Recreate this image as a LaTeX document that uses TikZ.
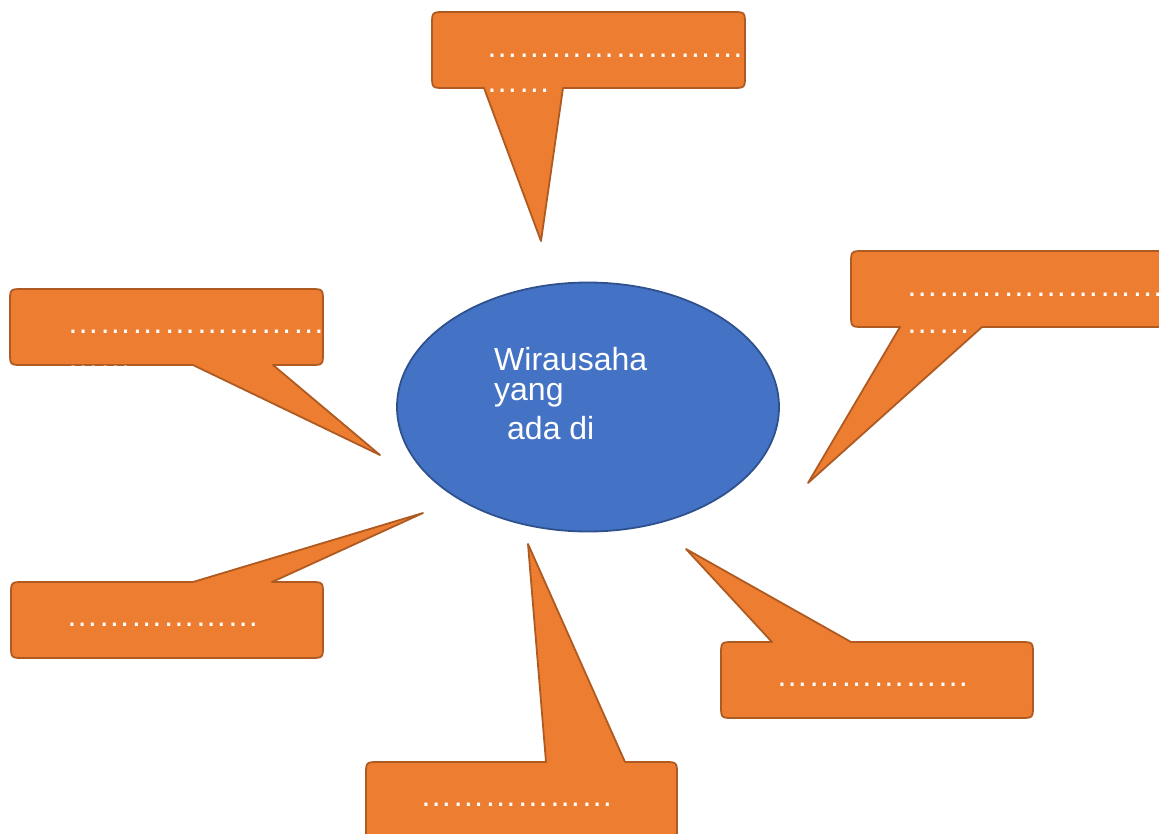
\documentclass[tikz,border=0pt]{standalone}
\usepackage{fontspec}
\setmainfont{Liberation Sans}
\usetikzlibrary{shapes.geometric}
\definecolor{orF}{HTML}{ED7D31}
\definecolor{orD}{HTML}{AE5A21}
\definecolor{blF}{HTML}{4472C4}
\definecolor{blD}{HTML}{2F528F}
% callout with tail leaving the bottom edge: x1 y1 x2 y2 b1 b2 tipx tipy
\newcommand\coBottom[8]{%
  \filldraw[callbox] ({#1+13},#2) -- ({#3-13},#2) .. controls (#3,#2) .. (#3,{#2+13})
    -- (#3,{#4-13}) .. controls (#3,#4) .. ({#3-13},#4)
    -- (#6,#4) -- (#7,#8) -- (#5,#4)
    -- ({#1+13},#4) .. controls (#1,#4) .. (#1,{#4-13})
    -- (#1,{#2+13}) .. controls (#1,#2) .. ({#1+13},#2) -- cycle;}
% callout with tail leaving the top edge: x1 y1 x2 y2 b1 b2 tipx tipy
\newcommand\coTop[8]{%
  \filldraw[callbox] ({#1+13},#2) -- (#5,#2) -- (#7,#8) -- (#6,#2)
    -- ({#3-13},#2) .. controls (#3,#2) .. (#3,{#2+13})
    -- (#3,{#4-13}) .. controls (#3,#4) .. ({#3-13},#4)
    -- ({#1+13},#4) .. controls (#1,#4) .. (#1,{#4-13})
    -- (#1,{#2+13}) .. controls (#1,#2) .. ({#1+13},#2) -- cycle;}
\begin{document}
\begin{tikzpicture}[x=1pt,y=-1pt,
  callbox/.style={fill=orF, draw=orD, line width=1.8pt, line join=round},
  dots/.style={text=white, inner sep=0pt, anchor=base west, font=\fontsize{32.2}{38}\selectfont},
  maintext/.style={text=white, inner sep=0pt, anchor=base west, font=\fontsize{32}{36}\selectfont}]
\useasboundingbox (0,0) rectangle (1159,833);
\clip (0,0) rectangle (1159,833);
\fill[white] (0,0) rectangle (1159,833);

% top callout
\coBottom{432}{12}{745}{88}{484}{563}{541}{241}
\node[dots] (t1) at (486,57) {……………………};
\node[dots] (t2) at (486,92) {……};

% left top callout
\coBottom{10}{289}{323}{365}{193}{273}{380}{455}
\node[dots] (lt1) at (67,333) {……………………};
\node[dots] (lt2) at (67,369) {……};

% right callout
\coBottom{851}{251}{1170}{327}{900}{982}{808}{483}
\node[dots] (r1) at (906,296) {……………………};
\node[dots] (r2) at (906,333) {……};

% bottom left callout
\coTop{11}{582}{323}{658}{193}{272}{423}{513}
\node[dots] (bl) at (66,626) {………………};

% bottom middle callout
\coTop{366}{762}{677}{850}{546}{625}{528}{544}
\node[dots] (bm) at (420,806) {………………};

% bottom right callout
\coTop{721}{642}{1033}{718}{772}{851}{686}{549}
\node[dots] (br) at (776,686) {………………};

% central ellipse
\node[ellipse, fill=blF, draw=blD, line width=1.8pt, minimum width=382pt, minimum height=249pt, inner sep=0pt] (center) at (588,407) {};
\node[maintext] (w1) at (494,370) {Wirausaha};
\node[maintext] (w2) at (494,400) {yang};
\node[maintext] (w3) at (507,439) {ada di};
\end{tikzpicture}
\end{document}
